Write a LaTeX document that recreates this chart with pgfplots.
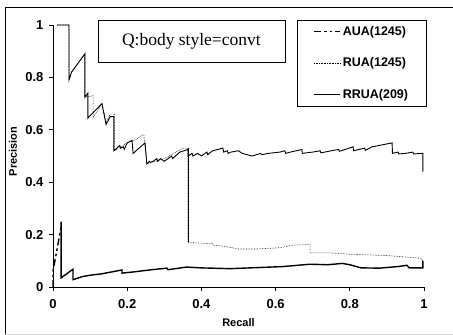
\documentclass[border=0pt]{standalone}
\usepackage{pgfplots}
\pgfplotsset{compat=1.18}
\usepackage{fontspec}
\setmainfont{Liberation Serif}
\setsansfont{Liberation Sans}
\begin{document}
\begin{tikzpicture}
\path[use as bounding box] (-53pt,-48pt) rectangle (400pt,287pt);
\begin{axis}[
  name=ax, at={(0,0)}, anchor=south west,
  scale only axis, width=371pt, height=262pt,
  xmin=0, xmax=1, ymin=0, ymax=1,
  axis x line=bottom, axis y line=left, axis line style={-, black, line width=0.8pt},
  xtick={0,0.2,0.4,0.6,0.8,1}, ytick={0,0.2,0.4,0.6,0.8,1},
  tick align=outside, major tick length=4pt, tick style={black, line width=0.8pt},
  /pgf/number format/assume math mode=true,
  ticklabel style={font=\sffamily\bfseries\fontsize{13}{15}\selectfont},
  xticklabel style={yshift=-5pt},
  yticklabel style={xshift=-2pt},
  xlabel={Recall}, ylabel={Precision},
  every axis x label/.style={at={(axis description cs:0.5,-0.137)}, anchor=center,
     font=\sffamily\bfseries\fontsize{11}{13}\selectfont},
  every axis y label/.style={at={(axis description cs:-0.108,0.517)}, anchor=center, rotate=90,
     font=\sffamily\bfseries\fontsize{11}{13}\selectfont},
  clip=false,
  legend style={at={(axis description cs:0.658,1.019)}, anchor=north west, draw=black, line width=0.6pt,
    font=\sffamily\bfseries\fontsize{12.5}{14}\selectfont, inner xsep=16pt, inner ysep=4pt,
    row sep=17pt, cells={anchor=west}},
  legend image code/.code={\draw[#1] (0pt,0pt) -- (26pt,0pt);},
]
\draw[line width=0.6pt] (axis description cs:0.121,0.859) rectangle (axis description cs:0.625,1.019);
\node[font=\fontsize{17.5}{20}\selectfont] at (axis description cs:0.373,0.939) {Q:body style=convt};

% AUA (steep dashed start)
\addplot[black, line width=1.4pt, dash pattern=on 7pt off 3pt on 2.5pt off 3pt on 2.5pt off 3pt] coordinates {
(0,0)(0,0.06)(0.022,0.23)};
\addlegendentry{AUA(1245)}
% RUA
\addplot[black, line width=0.6pt, densely dotted] coordinates {
(0.011,1.0)(0.043,1.0)(0.043,0.79)(0.05,0.82)(0.086,0.89)(0.086,0.725)(0.108,0.73)(0.108,0.645)
(0.132,0.70)(0.143,0.63)(0.154,0.66)(0.166,0.66)(0.166,0.52)(0.20,0.55)(0.22,0.56)(0.242,0.58)
(0.245,0.58)(0.253,0.47)(0.30,0.49)(0.35,0.53)(0.364,0.53)(0.364,0.17)(0.43,0.165)(0.431,0.16)
(0.464,0.155)(0.50,0.145)(0.55,0.145)(0.612,0.15)(0.65,0.16)(0.693,0.162)(0.693,0.13)(0.75,0.13)
(0.80,0.125)(0.90,0.12)(0.99,0.11)(0.997,0.10)};
\addlegendentry{RUA(1245)}
% RRUA
\addplot[black, line width=0.9pt] coordinates {
(0.011,1.0)(0.043,1.0)(0.043,0.79)(0.05,0.82)(0.086,0.89)(0.086,0.725)(0.094,0.74)(0.094,0.645)
(0.132,0.70)(0.143,0.62)(0.154,0.65)(0.164,0.65)(0.164,0.52)(0.18,0.54)(0.182,0.53)(0.19,0.535)
(0.192,0.525)(0.20,0.55)(0.213,0.56)(0.216,0.51)(0.248,0.55)(0.253,0.47)(0.26,0.48)(0.262,0.475)
(0.27,0.48)(0.28,0.49)(0.282,0.48)(0.29,0.49)(0.30,0.48)(0.32,0.50)(0.322,0.49)(0.342,0.515)
(0.364,0.525)(0.364,0.50)(0.375,0.51)(0.377,0.50)(0.39,0.51)(0.40,0.50)(0.415,0.515)(0.417,0.505)
(0.43,0.52)(0.458,0.53)(0.46,0.515)(0.47,0.52)(0.472,0.51)(0.48,0.515)(0.50,0.52)(0.51,0.51)
(0.536,0.50)(0.56,0.51)(0.562,0.505)(0.58,0.51)(0.612,0.515)(0.625,0.52)(0.627,0.51)(0.64,0.515)
(0.671,0.525)(0.672,0.51)(0.70,0.515)(0.72,0.52)(0.722,0.512)(0.75,0.52)(0.77,0.525)(0.772,0.518)
(0.809,0.535)(0.81,0.52)(0.84,0.53)(0.842,0.522)(0.86,0.535)(0.914,0.55)(0.915,0.51)(0.93,0.515)
(0.932,0.508)(0.95,0.51)(0.97,0.515)(0.972,0.508)(0.997,0.51)(0.997,0.44)};
\addlegendentry{RRUA(209)}
% RUA vertical drop (appears solid)
\addplot[black, line width=0.6pt, forget plot] coordinates {(0.364,0.53)(0.364,0.17)};
% AUA (rest)
\addplot[black, line width=1.4pt, forget plot] coordinates {
(0.022,0.25)(0.022,0.035)(0.054,0.068)(0.054,0.028)(0.08,0.04)(0.10,0.045)(0.13,0.05)(0.16,0.058)
(0.186,0.065)(0.186,0.053)(0.22,0.058)(0.26,0.065)(0.307,0.072)(0.31,0.066)(0.36,0.076)(0.40,0.073)
(0.477,0.07)(0.55,0.074)(0.62,0.078)(0.693,0.087)(0.74,0.085)(0.78,0.09)(0.80,0.085)(0.83,0.073)
(0.88,0.072)(0.93,0.078)(0.954,0.083)(0.96,0.073)(0.997,0.073)(0.997,0.10)};
\end{axis}
\draw[line width=0.8pt] (-48pt,-47pt) -- (-48pt,280pt) -- (400pt,280pt);
\draw[line width=0.8pt, black!15] (-48pt,-47pt) -- (400pt,-47pt);
\end{tikzpicture}
\end{document}
